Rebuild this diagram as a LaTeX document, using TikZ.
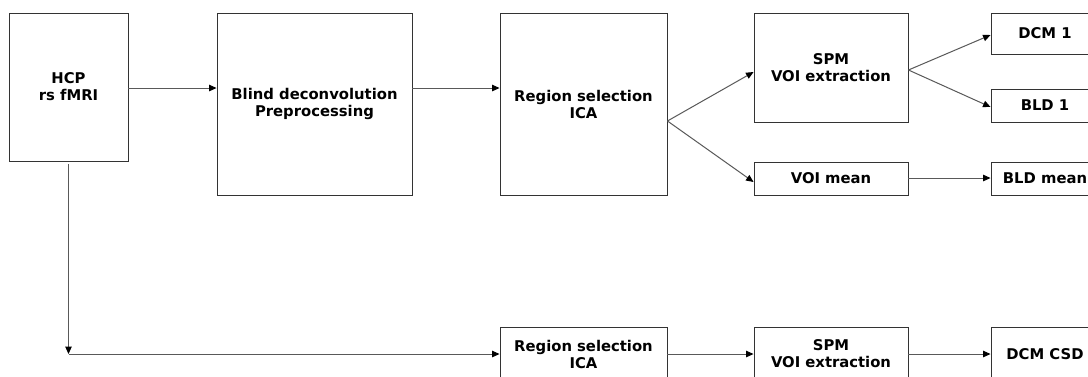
\documentclass[tikz,border=0pt]{standalone}
\usepackage{fontspec}
\setmainfont{DejaVu Sans}
\usetikzlibrary{arrows.meta,calc}

\tikzset{
  blockbox/.style={draw=black!80, line width=0.9pt, fill=white, inner sep=0pt,
    align=center, font=\bfseries\fontsize{14.8}{17}\selectfont},
  flow/.style={draw=black!65, line width=1pt,
    -{Triangle[length=7.5pt,width=6.5pt,color=black]}}
}

\begin{document}
\begin{tikzpicture}[x=1pt,y=-1pt]
  \useasboundingbox (0,0) rectangle (1088,376);
  \clip (0,0) rectangle (1088,376);
  \fill[white] (0,0) rectangle (1088,376);

  % upper pipeline
  \node[blockbox, minimum width=119pt, minimum height=148pt] (hcp) at (68.5,87) {HCP\\rs fMRI};
  \node[blockbox, minimum width=195pt, minimum height=182pt] (blind) at (314.5,104) {Blind deconvolution\\Preprocessing};
  \node[blockbox, minimum width=167pt, minimum height=182pt] (region) at (583.5,104) {Region selection\\ICA};
  \node[blockbox, minimum width=154pt, minimum height=109pt] (spm) at (831,67.5) {SPM\\VOI extraction};
  \node[blockbox, minimum width=154pt, minimum height=33pt] (voimean) at (831,178.5) {VOI mean};
  \node[blockbox, minimum width=108pt, minimum height=41pt] (dcm1) at (1045,33.5) {DCM 1};
  \node[blockbox, minimum width=108pt, minimum height=33pt] (bld1) at (1045,105.5) {BLD 1};
  \node[blockbox, minimum width=108pt, minimum height=33pt] (bldmean) at (1045,178.5) {BLD mean};

  % lower pipeline
  \node[blockbox, minimum width=167pt, minimum height=54pt] (bregion) at (583.5,354) {Region selection\\ICA};
  \node[blockbox, minimum width=154pt, minimum height=54pt] (bspm) at (831,354) {SPM\\VOI extraction};
  \node[blockbox, minimum width=108pt, minimum height=54pt] (dcmcsd) at (1045,354) {DCM CSD};

  % connectors of the upper pipeline
  \coordinate (h) at ([yshift=-1pt]hcp.east);
  \draw[flow] (h) -- (h -| blind.west);
  \draw[flow] (h -| blind.east) -- (h -| region.west);
  \coordinate (rsplit) at ([yshift=-17pt]region.east);
  \draw[flow] (rsplit) -- ([yshift=-4.5pt]spm.west);
  \draw[flow] (rsplit) -- ([yshift=-3.5pt]voimean.west);
  \coordinate (ssplit) at ([yshift=-2.5pt]spm.east);
  \draw[flow] (ssplit) -- ([yshift=-1.5pt]dcm1.west);
  \draw[flow] (ssplit) -- ([yshift=-1.5pt]bld1.west);
  \draw[flow] ([yshift=0.5pt]voimean.east) -- ([yshift=0.5pt]bldmean.west);

  % connectors of the lower pipeline
  \coordinate (corner) at (hcp.south |- bregion.west);
  \draw[flow] ([yshift=-3pt]hcp.south) -- (corner);
  \draw[flow] (corner) -- (bregion.west);
  \draw[flow] (bregion.east) -- (bspm.west);
  \draw[flow] (bspm.east) -- (dcmcsd.west);
\end{tikzpicture}
\end{document}
